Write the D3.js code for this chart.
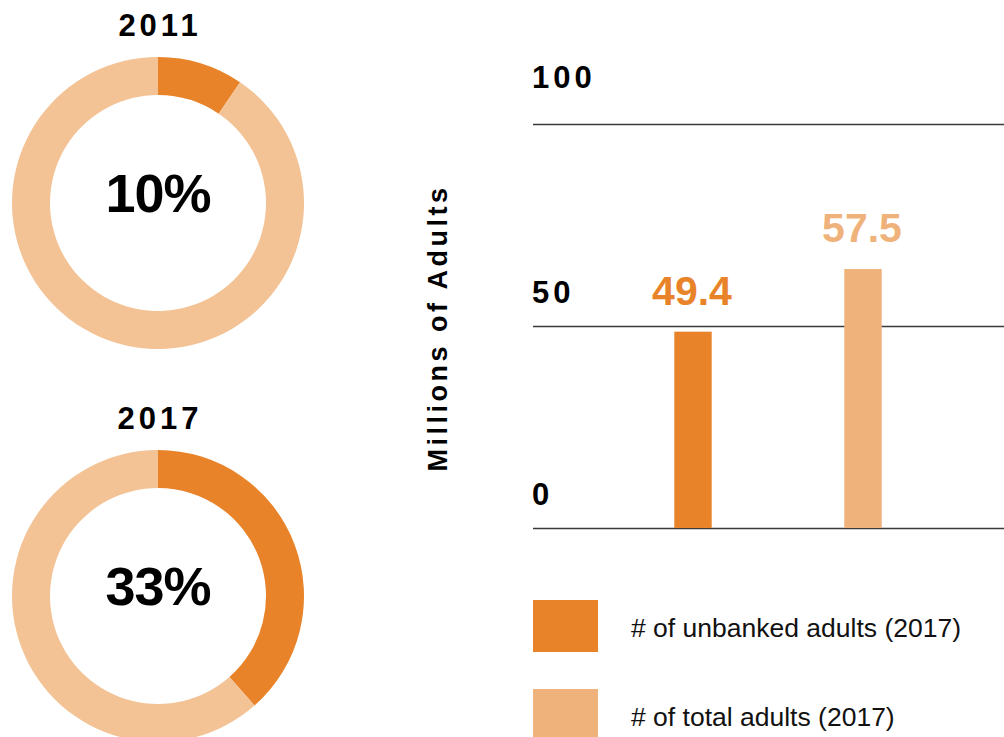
<!DOCTYPE html>
<html>
<head>
<meta charset="utf-8">
<script src="https://cdn.jsdelivr.net/npm/d3@7"></script>
<style>
  body { margin: 0; background: #fff; }
  svg { display: block; font-family: "Liberation Sans", Arial, Helvetica, sans-serif; }
</style>
</head>
<body>
<div id="chart"></div>
<script>
// data
var donutYears = ["2011", "2017"];
var donutLabels = ["10%", "33%"];
var donutShares = [9.5, 38.5];          // orange share of the ring as drawn (%)
var barCats = ["# of unbanked adults (2017)", "# of total adults (2017)"];
var barLabels = ["49.4", "57.5"];
var barValues = [48.6, 64.1];           // bar heights as drawn (millions)
var yTicks = [0, 50, 100];

var dark = "#E8832A", lightBar = "#F0B27B", lightRing = "#F3C295";

var svg = d3.select("#chart")
  .append("svg")
    .attr("width", 1004)
    .attr("height", 737);

// ---- donuts ----
var pie = d3.pie().sort(null).value(function(d) { return d; });
var arc = d3.arc().innerRadius(108).outerRadius(146);
var donutY = d3.scalePoint().domain(donutYears).range([203, 596]);

donutYears.forEach(function(yr, i) {
  var g = svg.append("g")
    .attr("transform", "translate(158," + donutY(yr) + ")");

  g.selectAll("path")
    .data(pie([donutShares[i], 100 - donutShares[i]]))
    .enter()
    .append("path")
      .attr("d", arc)
      .attr("fill", function(d, j) { return j == 0 ? dark : lightRing; });

  g.append("text")
    .attr("x", 2)
    .attr("y", -167)
    .attr("text-anchor", "middle")
    .style("font-size", "31px")
    .style("font-weight", "bold")
    .style("letter-spacing", "4px")
    .text(yr);

  g.append("text")
    .attr("y", 9)
    .attr("text-anchor", "middle")
    .style("font-size", "54px")
    .style("font-weight", "bold")
    .style("letter-spacing", "-1px")
    .text(donutLabels[i]);
});

// ---- bar chart ----
var y = d3.scaleLinear().domain([0, 100]).range([528, 124]);
var x = d3.scaleBand()
  .domain(barCats)
  .range([608, 948])
  .paddingInner(0.78)
  .paddingOuter(0.39);

// gridlines + tick labels
var yAxis = svg.append("g")
  .attr("transform", "translate(533,0)")
  .call(d3.axisRight(y).tickValues(yTicks).tickSize(471).tickFormat(d3.format("d")));
yAxis.select(".domain").remove();
yAxis.selectAll(".tick line")
  .attr("stroke", "#3a3a3a")
  .attr("stroke-width", 1.6);
yAxis.selectAll(".tick text")
  .attr("x", -1)
  .attr("dy", function(d) { return d == 100 ? -37 : -24; })
  .attr("text-anchor", "start")
  .attr("fill", "#000")
  .style("font-family", "'Liberation Sans', Arial, sans-serif")
  .style("font-size", "31px")
  .style("font-weight", "bold")
  .style("letter-spacing", "4px");

// axis title
svg.append("text")
  .attr("transform", "translate(447,328)rotate(-90)")
  .attr("text-anchor", "middle")
  .style("font-size", "27px")
  .style("font-weight", "bold")
  .style("letter-spacing", "3.5px")
  .text("Millions of Adults");

// bars
svg.selectAll("rect.bar")
  .data(barValues)
  .enter()
  .append("rect")
    .attr("class", "bar")
    .attr("x", function(d, i) { return x(barCats[i]); })
    .attr("y", function(d) { return y(d); })
    .attr("width", x.bandwidth())
    .attr("height", function(d) { return y(0) - y(d); })
    .attr("fill", function(d, i) { return i == 0 ? dark : lightBar; });

// value labels
svg.selectAll("text.val")
  .data(barValues)
  .enter()
  .append("text")
    .attr("class", "val")
    .attr("x", function(d, i) { return x(barCats[i]) + x.bandwidth() / 2 - 1; })
    .attr("y", function(d) { return y(d) - 27; })
    .attr("text-anchor", "middle")
    .attr("fill", function(d, i) { return i == 0 ? dark : lightBar; })
    .style("font-size", "41px")
    .style("font-weight", "bold")
    .text(function(d, i) { return barLabels[i]; });

// legend
var legend = svg.selectAll("g.legend")
  .data(barCats)
  .enter()
  .append("g")
    .attr("class", "legend")
    .attr("transform", function(d, i) { return "translate(533," + (600 + i * 89) + ")"; });

legend.append("rect")
  .attr("width", 65)
  .attr("height", 52)
  .attr("fill", function(d, i) { return i == 0 ? dark : lightBar; });

legend.append("text")
  .attr("x", 98)
  .attr("y", 37)
  .attr("fill", "#111")
  .style("font-size", "26.5px")
  .text(function(d) { return d; });
</script>
</body>
</html>
